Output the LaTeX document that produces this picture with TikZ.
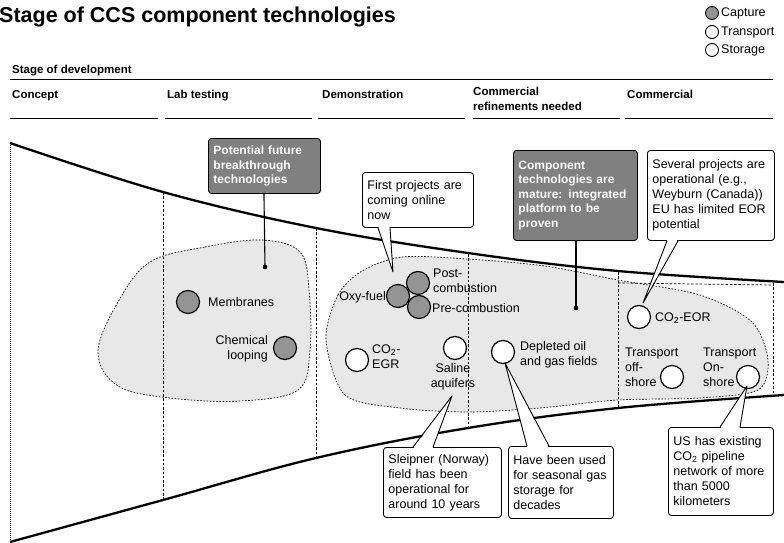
\documentclass[tikz,border=0pt]{standalone}
\usepackage{fontspec}
\setmainfont{Liberation Sans}
\usetikzlibrary{calc}
\begin{document}
\begin{tikzpicture}[x=1pt,y=-1pt,
  fs/.style={font=\fontsize{12.5}{15}\selectfont},
  lbl/.style={fs, inner sep=0pt},
  hdr/.style={font=\bfseries\fontsize{11.5}{15}\selectfont, inner sep=0pt, anchor=base west, align=left},
  capt/.style={circle, draw, line width=1.2pt, fill=black!42, minimum size=23pt, inner sep=0pt},
  stor/.style={circle, draw, line width=1.2pt, fill=white, minimum size=23pt, inner sep=0pt},
  sepline/.style={line width=0.7pt, dash pattern=on 2.5pt off 1.8pt},
  funnel/.style={line width=2.3pt},
  blob/.style={draw, line width=0.7pt, dash pattern=on 1.6pt off 1.6pt, fill=black!9},
  callout/.style={draw, line width=0.9pt, rounded corners=3pt, fill=white, fs, align=left, anchor=north west, inner xsep=5pt, inner ysep=0pt},
  greybox/.style={callout, fill=black!50, text=white, font=\bfseries\fontsize{12}{14.5}\selectfont},
  ptr/.style={line width=0.9pt, line join=round},
  pin/.style={line width=1.1pt},
  lgcirc/.style={circle, draw, line width=0.9pt, minimum size=13pt, inner sep=0pt},
  lgtext/.style={anchor=west, inner sep=0pt, font=\fontsize{12.5}{15}\selectfont},
  ]
\useasboundingbox (0,0) rectangle (784,543);

% title and legend
\node[anchor=base west, inner sep=0pt, font=\bfseries\fontsize{21.5}{24}\selectfont] (title) at (-1,23) {Stage of CCS component technologies};
\node[lgcirc, fill=black!42] (lgc) at (712,13) {};
\node[lgcirc, fill=white] (lgt) at (712,32) {};
\node[lgcirc, fill=white] (lgs) at (712,50) {};
\node[lgtext] (lgct) at (721,13) {Capture};
\node[lgtext] (lgtt) at (721,32) {Transport};
\node[lgtext] (lgst) at (721,50) {Storage};

% header
\node[hdr] (sod) at (12,74) {Stage of development};
\draw[line width=0.8pt] (10,79) -- (773,79);
\node[hdr] (h1) at (12,98) {Concept};
\node[hdr] (h2) at (167,98) {Lab testing};
\node[hdr] (h3) at (322,98) {Demonstration};
\node[hdr, anchor=north west] (h4) at (473,87) {Commercial\\refinements needed};
\node[hdr] (h5) at (627,98) {Commercial};
\foreach \a/\b in {10/158,165/312,318/465,473/620,625/773}
  \draw[line width=0.8pt] (\a,118) -- (\b,118);

% blobs
\path[blob] plot[smooth cycle, tension=0.6] coordinates {(150,262) (205,247) (262,240) (300,252) (309,290) (310,350) (298,390) (240,401) (170,398) (118,386) (98,352) (118,302)};
\path[blob] plot[smooth cycle, tension=0.5] coordinates {(326,340) (338,295) (362,271) (402,257) (468,259) (545,266) (618,280) (700,295) (752,322) (768,360) (758,390) (700,398) (618,400) (540,408) (468,412) (400,408) (345,395)};
\draw[sepline] (618,283) -- (773,285);

% column separators
\draw[line width=0.7pt, dash pattern=on 1pt off 1pt] (10,143) -- (10,542);
\draw[sepline] (163,192) -- (163,500);
\draw[sepline] (316,228) -- (316,458);
\draw[sepline] (468,254) -- (468,428);
\draw[sepline] (618,272) -- (618,408);
\draw[sepline] (773,283) -- (773,396);

% funnel
\draw[funnel] plot[smooth, tension=0.6] coordinates {(10,143) (163,192) (316,228) (468,253) (618,271) (784,282)};
\draw[funnel] plot[smooth, tension=0.6] coordinates {(10,542) (163,500) (316,458) (468,428) (618,408) (784,395)};

% capture circles
\node[capt] (membr) at (188,302) {};
\node[capt] (chem) at (285,348) {};
\node[capt] (oxy) at (398,296) {};
\node[capt] (post) at (418,283) {};
\node[capt] (pre) at (419,307) {};
% storage / transport circles
\node[stor] (egr) at (357,360) {};
\node[stor] (saline) at (455,348) {};
\node[stor] (depl) at (503,352) {};
\node[stor] (eor) at (639,317) {};
\node[stor] (off) at (672,377) {};
\node[stor] (on) at (748,377) {};

% labels
\node[lbl, anchor=west] (membrt) at (208,302) {Membranes};
\node[lbl, anchor=east, align=right] (chemt) at (268,349) {Chemical\\looping};
\node[lbl, anchor=east] (oxyt) at (386,297) {Oxy-fuel};
\node[lbl, anchor=west, align=left] (postt) at (433,281) {Post-\\combustion};
\node[lbl, anchor=west] (pret) at (432,308) {Pre-combustion};
\node[lbl, anchor=west, align=left] (egrt) at (372,357) {CO\textsubscript{2}-\\EGR};
\node[lbl, anchor=north, align=center] (salinet) at (453,363) {Saline\\aquifers};
\node[lbl, anchor=west, align=left] (deplt) at (520,355) {Depleted oil\\and gas fields};
\node[lbl, anchor=west] (eort) at (655,318) {CO\textsubscript{2}-EOR};
\node[lbl, anchor=north west, align=left] (offt) at (625,348) {Transport\\off-\\shore};
\node[lbl, anchor=north west, align=left] (ont) at (703,348) {Transport\\On-\\shore};

% grey boxes with pins
\node[greybox, text width=102pt, minimum height=55pt] (gb1) at (208,138) {Potential future\\breakthrough\\technologies};
\coordinate (gb1dot) at (265,267);
\draw[pin] (gb1.south) ++(-0.5,0) -- (gb1dot);
\fill (gb1dot) circle (2.3pt);
\node[greybox, text width=114pt, minimum height=90pt] (gb2) at (513,150) {Component\\technologies are\\mature: integrated\\platform to be\\proven};
\coordinate (gb2dot) at (576,308);
\draw[pin] ($(gb2.south west)+(63,0)$) -- (gb2dot);
\fill (gb2dot) circle (2.3pt);

% callouts
\node[callout, text width=101pt, minimum height=55pt] (first) at (362,172) {First projects are\\coming online\\now};
\coordinate (firsttip) at (393,272);
\fill[white] ($(first.south west)+(16.5,-1.5)$) -- (firsttip) -- ($(first.south west)+(27.5,-1.5)$) -- cycle;
\draw[ptr] ($(first.south west)+(16,0)$) -- (firsttip) -- ($(first.south west)+(28,0)$);

\node[callout, text width=117pt, minimum height=90pt] (sev) at (647,150) {Several projects are\\operational (e.g.,\\Weyburn (Canada))\\EU has limited EOR\\potential};
\coordinate (sevtip) at (643,303);
\fill[white] ($(sev.south west)+(20.5,-1.5)$) -- (sevtip) -- ($(sev.south west)+(30.5,-1.5)$) -- cycle;
\draw[ptr] ($(sev.south west)+(20,0)$) -- (sevtip) -- ($(sev.south west)+(31,0)$);

\node[callout, text width=108pt, minimum height=70pt] (sleip) at (383,447) {Sleipner (Norway)\\field has been\\operational for\\around 10 years};
\coordinate (sleiptip) at (452,396);
\fill[white] ($(sleip.north west)+(30.5,1.5)$) -- (sleiptip) -- ($(sleip.north west)+(49.5,1.5)$) -- cycle;
\draw[ptr] ($(sleip.north west)+(30,0)$) -- (sleiptip) -- ($(sleip.north west)+(50,0)$);

\node[callout, text width=95pt, minimum height=72pt] (have) at (508,446) {Have been used\\for seasonal gas\\storage for\\decades};
\coordinate (havetip) at (505,363);
\fill[white] ($(have.north west)+(19.5,1.5)$) -- (havetip) -- ($(have.north west)+(40.5,1.5)$) -- cycle;
\draw[ptr] ($(have.north west)+(19,0)$) -- (havetip) -- ($(have.north west)+(41,0)$);

\node[callout, text width=95pt, minimum height=88pt] (us) at (668,427) {US has existing\\CO\textsubscript{2} pipeline\\network of more\\than 5000\\kilometers};
\coordinate (ustip) at (747,386);
\fill[white] ($(us.north west)+(52.5,1.5)$) -- (ustip) -- ($(us.north west)+(71.5,1.5)$) -- cycle;
\draw[ptr] ($(us.north west)+(52,0)$) -- (ustip) -- ($(us.north west)+(72,0)$);
\end{tikzpicture}
\end{document}
